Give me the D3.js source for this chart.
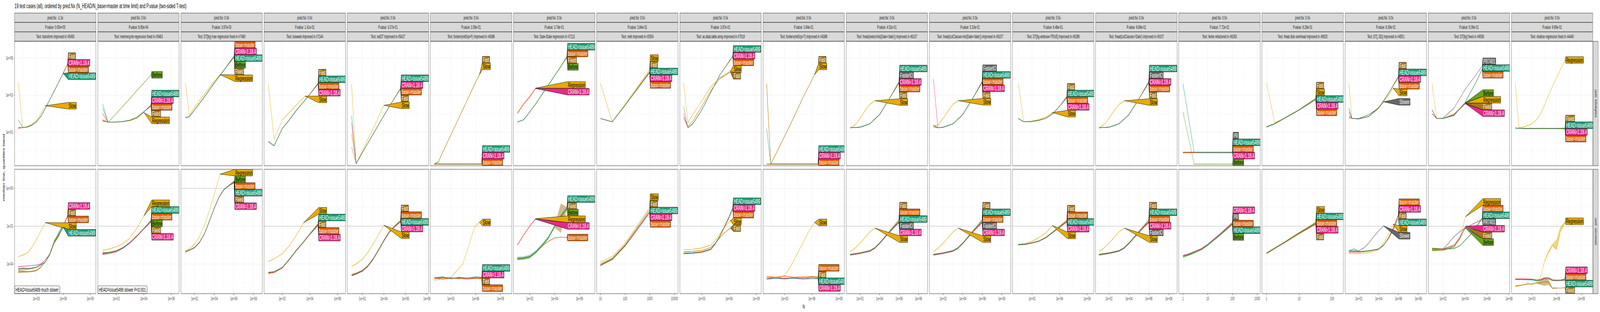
<!DOCTYPE html>
<html><head><meta charset="utf-8">
<script src="https://cdn.jsdelivr.net/npm/d3@7"></script>
<style>html,body{margin:0;padding:0;background:#fff;overflow:hidden}svg{display:block}text{font-family:"Liberation Sans",Arial,sans-serif}</style>
</head><body><svg id="chart"></svg>
<script>
// ---------------- DATA ----------------
const titleText = "19 test cases (all), ordered by pred.Nx (N_HEAD/N_base=master at time limit) and P.value (two-sided T-test)";
const yAxisTitle = "median line, quartiles band";
const xAxisTitle = "N";
const rowUnits = ["unit: kilobytes", "unit: seconds"];
const testNames = ["transform improved in #5493","memrecycle regression fixed in #5463","DT[by] max regression fixed in #7480","isoweek improved in #7144","setDT improved in #5427","forderv(retGrp=F) improved in #4386","Date-IDate regression in #7213","melt improved in #5054","as.data.table.array improved in #7019","forderv(retGrp=T) improved in #4386","fread(select=list(Date='date')) improved in #6107","fread(colClasses=list(Date='date')) improved in #6107","DT[by,verbose=TRUE] improved in #6296","fread(colClasses='Date') improved in #6107","fwrite refactored in #6393","fread disk overhead improved in #6925","DT[,.SD] improved in #4501","DT[by] fixed in #4558","shallow regression fixed in #4440"];
const predNx = ["-1.3x","0.0x","0.0x","0.0x","0.0x","0.0x","0.0x","0.0x","0.0x","0.0x","0.0x","0.0x","0.0x","0.0x","0.0x","0.0x","0.0x","0.0x","0.0x"];
const pValues = ["0.00e+00","8.65e-04","3.97e-03","1.41e-01","3.07e-01","3.59e-01","3.74e-01","3.84e-01","3.87e-01","3.94e-01","4.51e-01","5.33e-01","6.48e-01","6.88e-01","7.72e-01","8.28e-01","8.39e-01","9.36e-01","9.69e-01"];
const significance = ["HEAD=issue5489 much slower","HEAD=issue5489 slower P<0.001",null,null,null,null,null,null,null,null,null,null,null,null,null,null,null,null,null];
const timeLimitSec = [0.01,0.01,1,0.01,0.01,0.01,0.01,0.01,0.01,0.01,0.01,0.01,0.01,0.01,0.01,0.01,0.01,0.01,0.01];
// x axis limits (log10 N) per panel, tick exponents and tick labels
const xLimitsLog10 = [[0.59,9.65],[0.65,6.58],[0.61,8.91],[0.69,6.58],[0.59,8.16],[0.53,10.37],[0.69,7.25],[0.85,4.15],[0.58,9.56],[0.6,9.6],[0.58,8.92],[0.58,8.92],[0.58,6.49],[0.66,8.83],[-0.17,3.12],[-0.14,2.35],[0.62,8.83],[0.66,8.06],[0.53,10.4]];
const xTickExp = [[3,6,9],[2,4,6],[2,4,6,8],[2,4,6],[2,4,6,8],[3,6,9],[2,4,6],[1,2,3,4],[3,6,9],[3,6,9],[2,4,6,8],[2,4,6,8],[2,4,6],[2,4,6,8],[0,1,2,3],[0,1,2],[2,4,6,8],[2,4,6,8],[3,6,9]];
const xTickLabels = [["1e+03","1e+06","1e+09"],["1e+02","1e+04","1e+06"],["1e+02","1e+04","1e+06","1e+08"],["1e+02","1e+04","1e+06"],["1e+02","1e+04","1e+06","1e+08"],["1e+03","1e+06","1e+09"],["1e+02","1e+04","1e+06"],["10","100","1000","10000"],["1e+03","1e+06","1e+09"],["1e+03","1e+06","1e+09"],["1e+02","1e+04","1e+06","1e+08"],["1e+02","1e+04","1e+06","1e+08"],["1e+02","1e+04","1e+06"],["1e+02","1e+04","1e+06","1e+08"],["1","10","100","1000"],["1","10","100"],["1e+02","1e+04","1e+06","1e+08"],["1e+02","1e+04","1e+06","1e+08"],["1e+03","1e+06","1e+09"]];
// y axis (log10) per row
const yLimitsKb = [-0.81, 5.905];
const yLimitsSec = [-5.567, 1.01];
const yTickExpKb = [1,3,5];
const yTickLabelsKb = ["1e+01","1e+03","1e+05"];
const yTickExpSec = [-4,-2,0];
const yTickLabelsSec = ["1e-04","1e-02","1e+00"];

const H = "HEAD=issue5489", B = "base=master", C = "CRAN=1.18.4";
// series: [name, [[log10 N, log10 median], ...], optional band [[log10 N, log10 q25, log10 q75], ...]]
const p01_kb = [
 ["Slow", [[1,3.67],[1.5,1.25],[2,1.3],[2.5,1.42],[3,1.62],[3.5,2.0],[4,2.43]]],
 ["Fast", [[1,1.25],[1.5,1.25],[2,1.28],[2.5,1.38],[3,1.55],[3.5,1.85],[4,2.28],[4.5,2.75],[5,3.22],[5.5,3.7],[6,4.2],[6.5,4.71]]],
 [C, [[1,1.23],[1.5,1.25],[2,1.28],[2.5,1.38],[3,1.55],[3.5,1.85],[4,2.28],[4.5,2.75],[5,3.22],[5.5,3.7],[6,4.19],[6.5,4.70]]],
 [B, [[1,1.21],[1.5,1.25],[2,1.28],[2.5,1.38],[3,1.55],[3.5,1.85],[4,2.28],[4.5,2.75],[5,3.22],[5.5,3.7],[6,4.18],[6.5,4.68]]],
 [H, [[1,1.67],[1.5,1.25],[2,1.28],[2.5,1.38],[3,1.55],[3.5,1.85],[4,2.28],[4.5,2.75],[5,3.22],[5.5,3.7],[6,4.18]]]
];
const p01_sec = [
 ["Slow", [[1,-3.61],[1.5,-3.53],[2,-3.41],[2.5,-3.13],[3,-2.72],[3.5,-2.27],[4,-1.81]]],
 [C, [[1,-4.15],[1.5,-4.12],[2,-4.1],[2.5,-4.08],[3,-4.06],[3.5,-4.0],[4,-3.79],[4.5,-3.48],[5,-2.85],[5.5,-2.48],[6,-1.98],[6.5,-1.42]]],
 ["Fast", [[1,-4.42],[1.5,-4.4],[2,-4.41],[2.5,-4.39],[3,-4.35],[3.5,-4.17],[4,-3.9],[4.5,-3.5],[5,-2.87],[5.5,-2.5],[6,-2.0],[6.5,-1.45]],
   [[1,-4.48,-4.32],[1.5,-4.46,-4.32],[2,-4.45,-4.37],[2.5,-4.43,-4.35],[3,-4.38,-4.3],[3.5,-4.2,-4.14],[4,-3.92,-3.88],[4.5,-3.56,-3.42],[5,-2.95,-2.72],[5.5,-2.58,-2.4],[6,-2.04,-1.96],[6.5,-1.47,-1.43]]],
 [B, [[1,-4.33],[1.5,-4.2],[2,-4.23],[2.5,-4.22],[3,-4.17],[3.5,-4.06],[4,-3.9],[4.5,-3.5],[5,-2.86],[5.5,-2.5],[6,-2.02],[6.5,-1.47]]],
 [H, [[1,-4.25],[1.5,-4.26],[2,-4.27],[2.5,-4.25],[3,-4.17],[3.5,-4.06],[4,-3.9],[4.5,-3.48],[5,-2.83],[5.5,-2.42],[6,-2.05]],
   [[1,-4.28,-4.2],[2,-4.3,-4.22],[3,-4.2,-4.14],[4,-3.93,-3.87],[4.5,-3.52,-3.44],[5,-2.88,-2.78],[5.5,-2.5,-2.28],[6,-2.1,-1.88]]]
];
const p02_kb = [
 ["Before", [[1,2.3],[1.4,1.54],[2,2.0],[2.5,2.42],[3,2.82],[3.5,3.25],[4,3.65],[4.54,4.1]]],
 [H, [[1,2.54],[1.4,1.54],[2,1.55],[2.5,1.58],[3,1.65],[3.5,1.8],[4,2.1],[4.54,2.47]]],
 [C, [[1,2.0],[1.4,1.54],[2,1.55],[2.5,1.58],[3,1.65],[3.5,1.8],[4,2.1],[4.54,2.45]]],
 [B, [[1,1.67],[1.4,1.54],[2,1.55],[2.5,1.58],[3,1.65],[3.5,1.8],[4,2.1],[4.54,2.43]]],
 ["Fixed", [[1,1.6],[1.4,1.54],[2,1.55],[2.5,1.58],[3,1.65],[3.5,1.8],[4,2.1],[4.54,2.41]]],
 ["Regression", [[1,1.62],[1.4,1.54],[2,1.55],[2.5,1.58],[3,1.62],[3.5,1.75],[4.02,2.06]]]
];
const p02_sec = [
 ["Regression", [[1,-3.28],[1.5,-3.2],[2,-3.08],[2.5,-2.92],[3,-2.62],[3.5,-2.1],[4.02,-1.45]]],
 [H, [[1,-3.42],[1.5,-3.38],[2,-3.3],[2.5,-3.12],[3,-2.85],[3.5,-2.5],[4,-2.12],[4.54,-1.68]]],
 [B, [[1,-3.44],[1.5,-3.39],[2,-3.31],[2.5,-3.13],[3,-2.86],[3.5,-2.51],[4,-2.13],[4.54,-1.70]]],
 ["Before", [[1,-3.4],[1.5,-3.37],[2,-3.3],[2.5,-3.12],[3,-2.86],[3.5,-2.52],[4,-2.14],[4.54,-1.72]]],
 ["Fixed", [[1,-3.46],[1.5,-3.42],[2,-3.33],[2.5,-3.15],[3,-2.88],[3.5,-2.53],[4,-2.15],[4.54,-1.74]]],
 [C, [[1,-3.5],[1.5,-3.44],[2,-3.35],[2.5,-3.16],[3,-2.89],[3.5,-2.54],[4,-2.16],[4.54,-1.76]]]
];
const p03_kb = [
 ["Regression", [[1.07,3.66],[1.46,1.9],[2,2.35],[3,3.05],[4,3.75],[4.6,4.11]]],
 [B, [[1.07,1.8],[1.46,1.83],[2,2.2],[3,2.9],[4,3.65],[5,4.35],[6.05,5.14]]],
 [C, [[1.07,1.8],[1.46,1.83],[2,2.2],[3,2.9],[4,3.65],[5,4.35],[6.05,5.12]]],
 [H, [[1.07,1.8],[1.46,1.83],[2,2.2],[3,2.9],[4,3.65],[5,4.35],[6.05,5.10]]],
 ["Before", [[1.07,1.8],[1.46,1.83],[2,2.2],[3,2.9],[4,3.65],[5,4.35],[6.05,5.08]]],
 ["Fixed", [[1.07,1.8],[1.46,1.83],[2,2.2],[3,2.9],[4,3.65],[5,4.35],[6.05,5.06]]]
];
const p03_sec = [
 ["Regression", [[1.07,-3.3],[1.5,-3.18],[2,-2.95],[2.5,-2.55],[3,-1.95],[3.5,-1.2],[4,-0.35],[4.6,0.75]]],
 ["Before", [[1.07,-3.35],[1.5,-3.25],[2,-3.12],[2.5,-2.85],[3,-2.4],[3.5,-1.75],[4,-1.05],[4.5,-0.45],[5,-0.05],[5.5,0.15],[6.05,0.40]]],
 [B, [[1.07,-3.35],[1.5,-3.25],[2,-3.12],[2.5,-2.85],[3,-2.4],[3.5,-1.75],[4,-1.05],[4.5,-0.45],[5,-0.05],[5.5,0.15],[6.05,0.37]]],
 [H, [[1.07,-3.35],[1.5,-3.25],[2,-3.12],[2.5,-2.85],[3,-2.4],[3.5,-1.75],[4,-1.05],[4.5,-0.45],[5,-0.05],[5.5,0.15],[6.05,0.35]]],
 ["Fixed", [[1.07,-3.37],[1.5,-3.27],[2,-3.14],[2.5,-2.87],[3,-2.42],[3.5,-1.77],[4,-1.07],[4.5,-0.47],[5,-0.07],[5.5,0.13],[6.05,0.33]]],
 [C, [[1.07,-3.37],[1.5,-3.27],[2,-3.14],[2.5,-2.87],[3,-2.42],[3.5,-1.77],[4,-1.07],[4.5,-0.47],[5,-0.07],[5.5,0.13],[6.05,0.30]]]
];
const p04_kb = [
 ["Slow", [[1,3.57],[1.41,0.64],[2,1.65],[2.5,2.05],[3,2.45],[3.66,2.95]]],
 ["Fast", [[1,0.5],[1.41,0.26],[2,1.19],[2.5,1.65],[3,2.15],[3.5,2.6],[4,3.05],[4.6,3.66]]],
 [H, [[1,0.5],[1.41,0.26],[2,1.19],[2.5,1.65],[3,2.15],[3.5,2.6],[4,3.05],[4.6,3.64]]],
 [B, [[1,0.5],[1.41,0.26],[2,1.19],[2.5,1.65],[3,2.15],[3.5,2.6],[4,3.05],[4.6,3.62]]],
 [C, [[1,0.5],[1.41,0.26],[2,1.19],[2.5,1.65],[3,2.15],[3.5,2.6],[4,3.05],[4.6,3.60]]]
];
const p04_sec = [
 ["Slow", [[1,-3.86],[1.41,-3.73],[2,-3.46],[2.5,-3.05],[3,-2.5],[3.55,-1.82]]],
 [H, [[1,-4.43],[1.41,-4.4],[2,-4.18],[2.5,-3.75],[3,-3.28],[3.5,-2.85],[4,-2.4],[4.6,-1.86]]],
 ["Fast", [[1,-4.45],[1.41,-4.42],[2,-4.2],[2.5,-3.77],[3,-3.3],[3.5,-2.87],[4,-2.42],[4.6,-1.90]]],
 [B, [[1,-4.47],[1.41,-4.43],[2,-4.21],[2.5,-3.78],[3,-3.31],[3.5,-2.88],[4,-2.43],[4.6,-1.93]]],
 [C, [[1,-4.5],[1.41,-4.45],[2,-4.22],[2.5,-3.79],[3,-3.32],[3.5,-2.89],[4,-2.44],[4.6,-1.96]]]
];
const p05_kb = [
 ["Slow", [[1,3.57],[1.42,-0.7],[2,0.0],[3,1.2],[4,2.45]]],
 [H, [[1,1.9],[1.42,-0.7],[2,-0.1],[3,0.9],[4,1.9],[5,2.85],[5.56,3.40]]],
 [C, [[1,1.5],[1.42,-0.7],[2,-0.1],[3,0.9],[4,1.9],[5,2.85],[5.56,3.38]]],
 [B, [[1,0.9],[1.42,-0.7],[2,-0.1],[3,0.9],[4,1.9],[5,2.85],[5.56,3.36]]],
 ["Fast", [[1,0.2],[1.42,-0.7],[2,-0.1],[3,0.9],[4,1.9],[5,2.85],[5.56,3.34]]]
];
const p05_sec = [
 ["Slow", [[1,-4.13],[1.42,-4.0],[2,-3.75],[2.5,-3.4],[3,-2.95],[3.5,-2.45],[4,-1.95]]],
 ["Fast", [[1,-4.55],[1.42,-4.48],[2,-4.33],[2.5,-4.08],[3,-3.71],[3.5,-3.23],[4,-2.73],[4.5,-2.28],[5,-1.98],[5.56,-1.68]]],
 [B, [[1,-4.58],[1.42,-4.5],[2,-4.35],[2.5,-4.1],[3,-3.73],[3.5,-3.25],[4,-2.75],[4.5,-2.3],[5,-2.0],[5.56,-1.71]]],
 [H, [[1,-4.6],[1.42,-4.52],[2,-4.37],[2.5,-4.12],[3,-3.75],[3.5,-3.27],[4,-2.77],[4.5,-2.32],[5,-2.02],[5.56,-1.74]]],
 [C, [[1,-4.62],[1.42,-4.54],[2,-4.39],[2.5,-4.14],[3,-3.77],[3.5,-3.29],[4,-2.79],[4.5,-2.34],[5,-2.04],[5.56,-1.77]]]
];
const p06_kb = [
 ["Slow", [[1,-0.72],[1.5,-0.6],[2,-0.1],[3,0.85],[4,1.8],[5,2.75],[6,3.7],[6.46,4.11]]],
 ["Fast", [[1,-0.72],[1.5,-0.6],[2,-0.1],[3,0.85],[4,1.8],[5,2.75],[6,3.7],[6.46,4.11],[6.75,4.45]]],
 [H, [[1,-0.71],[2,-0.71],[3,-0.71],[4,-0.71],[5,-0.71],[6,-0.71],[6.75,-0.71]]],
 [C, [[1,-0.72],[2,-0.72],[3,-0.72],[4,-0.72],[5,-0.72],[6,-0.72],[6.75,-0.72]]],
 [B, [[1,-0.73],[2,-0.73],[3,-0.73],[4,-0.73],[5,-0.73],[6,-0.73],[6.75,-0.73]]]
];
const p06_sec = [
 ["Slow", [[1,-4.85],[2,-4.78],[3,-4.71],[4.44,-4.0],[5.2,-3.0],[5.88,-2.03],[6.46,-1.8]]],
 [H, [[1,-4.72],[2,-4.68],[3,-4.76],[4,-4.7],[5,-4.74],[6,-4.68],[6.75,-4.70]]],
 [C, [[1,-4.75],[2,-4.7],[3,-4.78],[4,-4.73],[5,-4.76],[6,-4.72],[6.75,-4.73]]],
 ["Fast", [[1,-4.77],[2,-4.73],[3,-4.72],[4,-4.78],[5,-4.74],[6,-4.77],[6.75,-4.75]]],
 [B, [[1,-4.74],[2,-4.8],[3,-4.75],[4,-4.76],[5,-4.8],[6,-4.76],[6.75,-4.78]]]
];
const p07_kb = [
 ["Regression", [[1,2.05],[1.5,2.55],[2,2.95],[2.46,3.38]]],
 [C, [[1,2.0],[1.5,2.5],[2,2.9],[2.46,3.36]]],
 [H, [[1,1.55],[1.5,1.67],[2,2.1],[2.5,2.55],[3,3.05],[3.5,3.55],[4,4.05],[4.5,4.55],[5,5.10]]],
 [B, [[1,1.55],[1.5,1.67],[2,2.1],[2.5,2.55],[3,3.05],[3.5,3.55],[4,4.05],[4.5,4.55],[5,5.08]]],
 ["Fixed", [[1,1.55],[1.5,1.67],[2,2.1],[2.5,2.55],[3,3.05],[3.5,3.55],[4,4.05],[4.5,4.55],[5,5.06]]],
 ["Before", [[1,1.55],[1.5,1.67],[2,2.1],[2.5,2.55],[3,3.05],[3.5,3.55],[4,4.05],[4.5,4.55],[5,5.04]]]
];
const p07_sec = [
 ["Regression", [[1,-2.97],[1.5,-2.45],[2,-1.98],[2.46,-1.6]]],
 [C, [[1,-3.0],[1.5,-2.48],[2,-2.0],[2.46,-1.63]]],
 [H, [[1,-3.7],[1.5,-3.68],[2,-3.6],[2.5,-3.35],[3,-3.0],[3.5,-2.6],[4,-2.0],[4.5,-1.45],[5,-1.0]],
   [[1,-3.8,-3.62],[1.5,-3.78,-3.6],[2,-3.7,-3.52],[2.5,-3.43,-3.27],[3,-3.08,-2.92],[3.5,-2.68,-2.52],[4,-2.06,-1.94],[4.5,-1.5,-1.4],[5,-1.03,-0.97]]],
 ["Fixed", [[1,-3.72],[1.5,-3.7],[2,-3.62],[2.5,-3.37],[3,-3.02],[3.5,-2.62],[4,-2.02],[4.5,-1.5],[5,-1.05]],
   [[3.5,-2.65,-2.6],[4,-2.08,-1.96],[4.5,-2.35,-0.8],[5,-1.1,-1.0]]],
 ["Before", [[1,-3.74],[1.5,-3.72],[2,-3.64],[2.5,-3.39],[3,-3.04],[3.5,-2.64],[4,-2.04],[4.5,-1.55],[5,-1.1]]],
 [B, [[1,-3.72],[1.5,-3.7],[2,-3.62],[2.5,-3.38],[3,-3.05],[3.5,-2.8],[4,-2.62],[4.5,-2.58],[5,-2.6]]]
];
const p08_kb = [
 ["Slow", [[1,3.64],[1.48,1.56],[2,2.5],[2.5,3.45],[3,4.4]]],
 ["Fast", [[1,1.74],[1.48,1.56],[2,2.45],[2.5,3.38],[3,4.3]]],
 [H, [[1,1.74],[1.48,1.56],[2,2.45],[2.5,3.35],[3,4.25]]],
 [C, [[1,1.74],[1.48,1.56],[2,2.45],[2.5,3.34],[3,4.23]]],
 [B, [[1,1.74],[1.48,1.56],[2,2.45],[2.5,3.33],[3,4.21]]]
];
const p08_sec = [
 ["Slow", [[1,-3.9],[1.48,-3.6],[2,-2.9],[2.5,-1.95],[3,-1.0]]],
 ["Fast", [[1,-4.0],[1.48,-3.7],[2,-2.98],[2.5,-2.05],[3,-1.1]]],
 [H, [[1,-4.05],[1.48,-3.73],[2,-3.02],[2.5,-2.12],[3,-1.2]]],
 [C, [[1,-4.07],[1.48,-3.75],[2,-3.04],[2.5,-2.15],[3,-1.25]]],
 [B, [[1,-4.09],[1.48,-3.77],[2,-3.06],[2.5,-2.18],[3,-1.3]]]
];
const p09_kb = [
 ["Slow", [[1,3.66],[1.47,1.51],[2,1.95],[3,2.7],[4,3.45],[5,3.95],[6.16,4.3]]],
 ["Fast", [[1,1.8],[1.47,1.3],[2,1.6],[3,2.4],[4,3.25],[5,3.9],[6.16,4.25]]],
 [H, [[1,2.38],[1.47,1.24],[2,1.45],[3,2.2],[4,3.15],[5,4.1],[6.42,5.12]]],
 [C, [[1,2.0],[1.47,1.24],[2,1.45],[3,2.2],[4,3.15],[5,4.1],[6.42,5.10]]],
 [B, [[1,1.8],[1.47,1.24],[2,1.45],[3,2.2],[4,3.15],[5,4.1],[6.42,5.08]]]
];
const p09_sec = [
 ["Slow", [[1,-3.24],[2,-3.22],[3,-3.15],[4,-3.0],[4.5,-2.75],[5,-2.4],[5.5,-2.05],[6.16,-1.7]]],
 ["Fast", [[1,-3.35],[2,-3.33],[3,-3.28],[4,-3.12],[4.5,-2.9],[5,-2.6],[5.5,-2.35],[6.16,-2.1]]],
 [H, [[1,-3.42],[2,-3.4],[3,-3.35],[4,-3.2],[4.5,-2.9],[5,-2.5],[5.5,-2.0],[6,-1.5],[6.42,-1.0]]],
 [C, [[1,-3.44],[2,-3.42],[3,-3.37],[4,-3.22],[4.5,-2.92],[5,-2.52],[5.5,-2.03],[6,-1.54],[6.42,-1.05]]],
 [B, [[1,-3.46],[2,-3.44],[3,-3.39],[4,-3.24],[4.5,-2.94],[5,-2.55],[5.5,-2.06],[6,-1.58],[6.42,-1.1]]]
];
const p10_kb = [
 ["Slow", [[1,3.66],[1.45,-0.72],[2,-0.2],[3,0.8],[4,1.8],[5,2.85],[6.3,4.11]]],
 ["Fast", [[1,3.6],[1.45,-0.72],[2,-0.2],[3,0.8],[4,1.8],[5,2.85],[6.3,4.11],[6.7,4.45]]],
 [H, [[1,1.19],[1.45,-0.71],[3,-0.71],[5,-0.71],[6.7,-0.71]]],
 [C, [[1,-0.72],[3,-0.72],[5,-0.72],[6.7,-0.72]]],
 [B, [[1,-0.73],[3,-0.73],[5,-0.73],[6.7,-0.73]]]
];
const p10_sec = [
 ["Slow", [[1,-4.78],[2,-4.74],[3,-4.62],[3.8,-4.0],[4.58,-3.28],[5.63,-2.3],[6.3,-1.8]]],
 [B, [[1,-4.66],[2,-4.7],[3,-4.64],[4,-4.7],[5,-4.68],[6,-4.66],[6.7,-4.68]]],
 ["Fast", [[1,-4.74],[2,-4.7],[3,-4.76],[4,-4.72],[5,-4.75],[6,-4.7],[6.7,-4.72]]],
 [H, [[1,-4.73],[2,-4.77],[3,-4.74],[4,-4.76],[5,-4.73],[6,-4.77],[6.7,-4.75]]],
 [C, [[1,-4.8],[2,-4.76],[3,-4.79],[4,-4.75],[5,-4.8],[6,-4.77],[6.7,-4.78]]]
];
const p11_kb = [
 ["Slow", [[1,1.24],[1.5,1.4],[2,1.75],[2.5,2.15],[3,2.5],[3.53,2.7]]],
 [H, [[1,1.24],[2,1.27],[3,1.45],[4,1.95],[5,2.8],[6,3.74]]],
 ["FasterIO", [[1,1.24],[2,1.27],[3,1.45],[4,1.95],[5,2.8],[6,3.72]]],
 [C, [[1,1.24],[2,1.27],[3,1.45],[4,1.95],[5,2.8],[6,3.70]]],
 [B, [[1,1.24],[2,1.27],[3,1.45],[4,1.95],[5,2.8],[6,3.68]]],
 ["Fast", [[1,1.24],[2,1.27],[3,1.45],[4,1.95],[5,2.8],[6,3.66]]]
];
const p11_sec = [
 ["Slow", [[1,-3.35],[1.5,-3.15],[2,-2.9],[2.5,-2.6],[3,-2.3],[3.53,-2.1]]],
 ["Fast", [[1,-3.48],[2,-3.4],[3,-3.28],[3.5,-3.13],[4,-2.88],[4.5,-2.58],[5,-2.27],[5.5,-1.96],[6,-1.65]]],
 [B, [[1,-3.5],[2,-3.42],[3,-3.3],[3.5,-3.15],[4,-2.9],[4.5,-2.6],[5,-2.3],[5.5,-2.0],[6,-1.70]]],
 [H, [[1,-3.51],[2,-3.43],[3,-3.31],[3.5,-3.16],[4,-2.91],[4.5,-2.61],[5,-2.32],[5.5,-2.03],[6,-1.75]]],
 ["FasterIO", [[1,-3.52],[2,-3.44],[3,-3.32],[3.5,-3.17],[4,-2.92],[4.5,-2.62],[5,-2.33],[5.5,-2.05],[6,-1.78]]],
 [C, [[1,-3.53],[2,-3.45],[3,-3.33],[3.5,-3.18],[4,-2.93],[4.5,-2.63],[5,-2.34],[5.5,-2.07],[6,-1.81]]]
];
const p12_kb = [
 ["Slow", [[1,1.3],[1.5,1.4],[2,1.75],[2.5,2.15],[3,2.5],[3.53,2.7]]],
 ["FasterIO", [[1,1.3],[1.46,1.24],[2,1.27],[3,1.45],[4,1.95],[5,2.8],[6,3.76]]],
 [H, [[1,1.4],[1.46,1.24],[2,1.27],[3,1.45],[4,1.95],[5,2.8],[6,3.74]]],
 [B, [[1,1.3],[1.46,1.24],[2,1.27],[3,1.45],[4,1.95],[5,2.8],[6,3.72]]],
 [C, [[1,3.88],[1.46,1.24],[2,1.27],[3,1.45],[4,1.95],[5,2.8],[6,3.70]]],
 ["Fast", [[1,1.3],[1.46,1.24],[2,1.27],[3,1.45],[4,1.95],[5,2.8],[6,3.68]]]
];
const p12_sec = [
 ["Slow", [[1,-3.35],[1.5,-3.15],[2,-2.9],[2.5,-2.6],[3,-2.3],[3.53,-2.1]]],
 ["Fast", [[1,-3.48],[2,-3.4],[3,-3.28],[3.5,-3.13],[4,-2.88],[4.5,-2.58],[5,-2.27],[5.5,-1.96],[6,-1.65]]],
 [H, [[1,-3.5],[2,-3.42],[3,-3.3],[3.5,-3.15],[4,-2.9],[4.5,-2.6],[5,-2.3],[5.5,-2.0],[6,-1.70]]],
 [B, [[1,-3.51],[2,-3.43],[3,-3.31],[3.5,-3.16],[4,-2.91],[4.5,-2.61],[5,-2.32],[5.5,-2.03],[6,-1.75]]],
 ["FasterIO", [[1,-3.52],[2,-3.44],[3,-3.32],[3.5,-3.17],[4,-2.92],[4.5,-2.62],[5,-2.33],[5.5,-2.05],[6,-1.78]]],
 [C, [[1,-3.53],[2,-3.45],[3,-3.33],[3.5,-3.18],[4,-2.93],[4.5,-2.63],[5,-2.34],[5.5,-2.07],[6,-1.81]]]
];
const p13_kb = [
 ["Slow", [[1,3.64],[1.4,1.56],[2,1.6],[2.5,1.68],[3,1.82],[3.47,2.06]]],
 ["Fast", [[1,1.74],[1.4,1.56],[2,1.58],[2.5,1.64],[3,1.75],[3.5,2.0],[4,2.4],[4.53,2.94]]],
 [H, [[1,1.74],[1.4,1.56],[2,1.58],[2.5,1.64],[3,1.75],[3.5,2.0],[4,2.4],[4.53,2.90]]],
 [B, [[1,1.74],[1.4,1.56],[2,1.58],[2.5,1.64],[3,1.75],[3.5,2.0],[4,2.4],[4.53,2.88]]],
 [C, [[1,1.74],[1.4,1.56],[2,1.58],[2.5,1.64],[3,1.75],[3.5,2.0],[4,2.4],[4.53,2.86]]]
];
const p13_sec = [
 ["Slow", [[1,-2.95],[1.5,-2.92],[2,-2.8],[2.5,-2.6],[3,-2.35],[3.47,-1.96]]],
 ["Fast", [[1,-2.96],[1.5,-2.94],[2,-2.87],[2.5,-2.77],[3,-2.58],[3.5,-2.3],[4,-2.0],[4.53,-1.68]]],
 [B, [[1,-2.97],[1.5,-2.95],[2,-2.88],[2.5,-2.78],[3,-2.6],[3.5,-2.32],[4,-2.03],[4.53,-1.72]]],
 [H, [[1,-2.98],[1.5,-2.96],[2,-2.89],[2.5,-2.79],[3,-2.61],[3.5,-2.33],[4,-2.05],[4.53,-1.75]]],
 [C, [[1,-2.99],[1.5,-2.97],[2,-2.9],[2.5,-2.8],[3,-2.62],[3.5,-2.34],[4,-2.07],[4.53,-1.78]]]
];
const p14_kb = [
 ["Slow", [[1,1.24],[1.5,1.4],[2,1.75],[2.5,2.15],[3,2.5],[3.55,2.7]]],
 [H, [[1,1.24],[2,1.27],[3,1.45],[4,1.95],[5,2.8],[6,3.74]]],
 ["FasterIO", [[1,1.24],[2,1.27],[3,1.45],[4,1.95],[5,2.8],[6,3.72]]],
 [C, [[1,1.24],[2,1.27],[3,1.45],[4,1.95],[5,2.8],[6,3.70]]],
 [B, [[1,1.24],[2,1.27],[3,1.45],[4,1.95],[5,2.8],[6,3.68]]],
 ["Fast", [[1,1.24],[2,1.27],[3,1.45],[4,1.95],[5,2.8],[6,3.66]]]
];
const p14_sec = [
 ["Slow", [[1,-3.35],[1.5,-3.15],[2,-2.9],[2.5,-2.6],[3,-2.3],[3.55,-2.1]]],
 ["Fast", [[1,-3.48],[2,-3.4],[3,-3.28],[3.5,-3.13],[4,-2.88],[4.5,-2.58],[5,-2.27],[5.5,-1.96],[6,-1.65]]],
 [H, [[1,-3.5],[2,-3.42],[3,-3.3],[3.5,-3.15],[4,-2.9],[4.5,-2.6],[5,-2.3],[5.5,-2.0],[6,-1.70]]],
 [B, [[1,-3.51],[2,-3.43],[3,-3.31],[3.5,-3.16],[4,-2.91],[4.5,-2.61],[5,-2.32],[5.5,-2.03],[6,-1.75]]],
 [C, [[1,-3.52],[2,-3.44],[3,-3.32],[3.5,-3.17],[4,-2.92],[4.5,-2.62],[5,-2.33],[5.5,-2.05],[6,-1.78]]],
 ["FasterIO", [[1,-3.53],[2,-3.45],[3,-3.33],[3.5,-3.18],[4,-2.93],[4.5,-2.63],[5,-2.34],[5.5,-2.07],[6,-1.81]]]
];
const p15_kb = [
 ["Before", [[0,2.1],[0.45,-0.72],[1,-0.72],[1.5,-0.72],[2,-0.72]]],
 ["PR", [[0,-0.08],[0.5,-0.08],[1,-0.08],[1.5,-0.08],[2,-0.08]]],
 [H, [[0,3.6],[0.45,-0.09],[1,-0.09],[1.5,-0.09],[2,-0.09]]],
 [B, [[0,-0.1],[0.5,-0.1],[1,-0.1],[1.5,-0.1],[2,-0.1]]],
 [C, [[0,-0.11],[0.5,-0.11],[1,-0.11],[1.5,-0.11],[2,-0.11]]]
];
const p15_sec = [
 ["Before", [[0,-3.65],[0.25,-3.53],[0.5,-3.4],[0.75,-3.25],[1,-3.02],[1.5,-2.48],[2,-1.92]]],
 [C, [[0,-3.55],[0.25,-3.45],[0.5,-3.32],[0.75,-3.18],[1,-2.95],[1.5,-2.4],[2,-1.80]]],
 ["PR", [[0,-3.57],[0.25,-3.47],[0.5,-3.34],[0.75,-3.2],[1,-2.97],[1.5,-2.42],[2,-1.83]]],
 [B, [[0,-3.59],[0.25,-3.49],[0.5,-3.35],[0.75,-3.21],[1,-2.98],[1.5,-2.44],[2,-1.86]]],
 [H, [[0,-3.6],[0.25,-3.5],[0.5,-3.36],[0.75,-3.22],[1,-2.99],[1.5,-2.45],[2,-1.89]]]
];
const p16_kb = [
 ["Slow", [[0,3.64],[0.25,1.5],[0.5,1.72],[1,2.22],[1.51,2.82]]],
 ["Fast", [[0,1.3],[0.25,1.47],[0.5,1.72],[1,2.22],[1.51,2.84]]],
 [H, [[0,1.28],[0.25,1.45],[0.5,1.7],[1,2.2],[1.51,2.78]]],
 [C, [[0,1.28],[0.25,1.45],[0.5,1.7],[1,2.2],[1.51,2.77]]],
 [B, [[0,1.28],[0.25,1.45],[0.5,1.7],[1,2.2],[1.51,2.76]]]
];
const p16_sec = [
 ["Slow", [[0,-3.4],[0.5,-2.88],[1,-2.33],[1.51,-1.78]]],
 [H, [[0,-3.42],[0.5,-2.9],[1,-2.35],[1.51,-1.81]]],
 [B, [[0,-3.43],[0.5,-2.91],[1,-2.37],[1.51,-1.84]]],
 [C, [[0,-3.44],[0.5,-2.92],[1,-2.38],[1.51,-1.87]]],
 ["Fast", [[0,-3.45],[0.5,-2.93],[1,-2.4],[1.51,-1.90]]]
];
const p17_kb = [
 ["Slow", [[1,3.64],[1.32,1.74],[2,1.72],[3,1.85],[4,2.35],[5,3.0],[5.46,3.38]]],
 ["Slower", [[1,1.8],[1.32,1.74],[2,1.74],[3,1.95],[4,2.3],[4.49,2.64]]],
 ["Fast", [[1,2.3],[1.32,1.74],[2,1.72],[3,1.85],[4,2.3],[5,3.1],[6,4.02]]],
 [H, [[1,2.3],[1.32,1.74],[2,1.72],[3,1.85],[4,2.3],[5,3.1],[6,4.00]]],
 [C, [[1,2.1],[1.32,1.74],[2,1.72],[3,1.85],[4,2.3],[5,3.1],[6,3.98]]],
 [B, [[1,1.9],[1.32,1.74],[2,1.72],[3,1.85],[4,2.3],[5,3.1],[6,3.96]]]
];
const p17_sec = [
 ["Slow", [[1,-3.45],[2,-3.45],[3,-3.4],[4,-3.25],[4.5,-2.9],[5,-2.4],[5.46,-1.9]]],
 ["Slower", [[1,-3.3],[2,-3.3],[2.5,-3.15],[3,-2.9],[3.5,-2.55],[4,-2.25],[4.49,-1.98]]],
 [B, [[1,-3.35],[2,-3.35],[3,-3.3],[4,-3.2],[4.5,-3.0],[5,-2.6],[5.5,-2.05],[6,-1.35]]],
 [C, [[1,-3.36],[2,-3.36],[3,-3.31],[4,-3.21],[4.5,-3.01],[5,-2.62],[5.5,-2.08],[6,-1.40]]],
 ["Fast", [[1,-3.37],[2,-3.37],[3,-3.32],[4,-3.22],[4.5,-3.02],[5,-2.64],[5.5,-2.12],[6,-1.48]]],
 [H, [[1,-3.3],[1.5,-3.2],[2,-3.34],[3,-3.3],[4,-3.2],[4.5,-3.0],[5,-2.65],[5.5,-2.18],[6,-1.60]]]
];
const p18_kb = [
 ["Regression", [[1,3.61],[1.43,1.74],[2,1.75],[3,1.98],[4.04,2.58]]],
 ["Before", [[1,2.0],[1.43,1.74],[2,1.74],[3,1.95],[4.04,2.60]]],
 ["Fixed", [[1,2.0],[1.43,1.74],[2,1.74],[3,1.95],[4.04,2.56]]],
 [C, [[1,2.0],[1.43,1.74],[2,1.74],[3,1.95],[4.04,2.54]]],
 ["PR7401", [[1,2.2],[1.43,1.74],[2,1.76],[3,2.3],[4,3.3],[5,4.1],[5.57,4.57]]],
 [H, [[1,2.2],[1.43,1.74],[2,1.74],[3,1.9],[4,2.6],[5,3.7],[5.57,4.42]]],
 [B, [[1,2.2],[1.43,1.74],[2,1.74],[3,1.9],[4,2.6],[5,3.7],[5.57,4.40]]]
];
const p18_sec = [
 ["Regression", [[1,-3.15],[2,-3.2],[3,-3.1],[3.5,-2.7],[4.04,-1.5]]],
 ["Before", [[1,-3.28],[2,-3.25],[3,-3.05],[3.5,-2.65],[4.04,-2.1]]],
 ["Fixed", [[1,-3.3],[2,-3.28],[3,-3.1],[3.5,-2.7],[4.04,-2.05]]],
 [C, [[1,-3.25],[2,-3.2],[3,-3.0],[3.5,-2.6],[4.04,-2.0]]],
 ["PR7401", [[1,-3.18],[2,-3.2],[2.5,-2.9],[3,-2.55],[3.5,-2.3],[4,-2.1],[4.5,-1.95],[5,-1.8],[5.57,-1.65]]],
 [H, [[1,-3.2],[2,-3.22],[3,-3.18],[3.5,-3.05],[4,-2.75],[4.5,-2.45],[5,-2.08],[5.57,-1.6]]],
 [B, [[1,-3.2],[2,-3.22],[3,-3.18],[3.5,-3.05],[4,-2.75],[4.5,-2.43],[5,-2.03],[5.57,-1.55]]]
];
const p19_kb = [
 ["Regression", [[1,3.64],[1.43,1.24],[2,1.28],[3,1.45],[3.61,1.7],[4.04,1.97],[4.53,2.45],[5.21,3.19],[6,3.95],[7.04,4.9]]],
 ["Fixed", [[1,1.22],[2,1.21],[3,1.21],[4,1.21],[5,1.21],[6,1.21],[7.04,1.22]]],
 [H, [[1,1.22],[2,1.2],[3,1.2],[4,1.2],[5,1.2],[6,1.2],[7.04,1.20]]],
 [C, [[1,1.23],[2,1.2],[3,1.2],[4,1.2],[5,1.2],[6,1.2],[7.04,1.19]]],
 [B, [[1,1.22],[2,1.19],[3,1.19],[4,1.19],[5,1.19],[6,1.19],[7.04,1.18]]]
];
const p19_sec = [
 ["Regression", [[1,-5.2],[1.5,-5.15],[2,-5.1],[2.5,-5.0],[3,-5.1],[3.61,-4.96],[4.04,-4.7],[4.53,-3.87],[5.0,-3.4],[5.49,-3.0],[6.0,-3.22],[6.48,-2.25],[7.04,-1.81]],
   [[4.53,-3.9,-3.84],[5.0,-3.45,-3.3],[5.49,-3.05,-2.95],[6.0,-3.25,-2.7],[6.48,-2.3,-2.0],[7.04,-1.85,-1.78]]],
 [C, [[1,-4.78],[2,-4.78],[3,-4.8],[3.61,-4.84],[4.04,-4.82],[4.53,-4.72],[5.0,-4.72],[5.49,-4.83],[6,-4.85],[6.5,-4.84],[7.04,-4.78]]],
 [B, [[1,-4.8],[2,-4.8],[3,-4.82],[3.61,-4.86],[4.04,-4.84],[4.53,-4.75],[5.0,-4.75],[5.49,-4.86],[6,-4.87],[6.5,-4.86],[7.04,-4.82]]],
 [H, [[1,-4.83],[2,-4.83],[3,-4.84],[3.61,-4.88],[4.04,-4.87],[4.53,-4.78],[5.0,-4.78],[5.49,-4.88],[6,-4.89],[6.5,-4.88],[7.04,-4.86]]],
 ["Fixed", [[1,-5.15],[2,-5.1],[3,-5.05],[3.61,-5.0],[4.04,-5.0],[4.53,-4.93],[5.0,-4.95],[5.49,-5.28],[6,-5.27],[6.5,-5.27],[7.04,-5.25]],
   [[3.61,-5.04,-4.96],[4.04,-5.1,-4.88],[4.53,-5.15,-4.75],[5.0,-5.1,-4.8],[5.49,-5.31,-5.24],[6,-5.3,-5.24]]]
];
const panelSeries = [[p01_kb,p01_sec],[p02_kb,p02_sec],[p03_kb,p03_sec],[p04_kb,p04_sec],[p05_kb,p05_sec],[p06_kb,p06_sec],[p07_kb,p07_sec],[p08_kb,p08_sec],[p09_kb,p09_sec],[p10_kb,p10_sec],[p11_kb,p11_sec],[p12_kb,p12_sec],[p13_kb,p13_sec],[p14_kb,p14_sec],[p15_kb,p15_sec],[p16_kb,p16_sec],[p17_kb,p17_sec],[p18_kb,p18_sec],[p19_kb,p19_sec]];

// ---------------- STYLE ----------------
const seriesColors = {"HEAD=issue5489":"#1B9E77","base=master":"#D95F02","CRAN=1.18.4":"#E7298A","Before":"#66A61E","Regression":"#E6AB02","Slow":"#E6AB02","Slower":"#666666","Fixed":"#A6761D","Fast":"#A6761D","FasterIO":"#666666","PR":"#666666","PR7401":"#666666"};
const drawRank = {"Regression":0,"Slow":0,"Slower":1,"FasterIO":1,"PR":1,"PR7401":1,"Fast":2,"Fixed":2,"Before":3,"CRAN=1.18.4":4,"base=master":5,"HEAD=issue5489":6};
function textColor(hex){const c=d3.rgb(hex);return (0.299*c.r+0.587*c.g+0.114*c.b)>128?"#000":"#fff";}

const VW=7600, VH=800;
const P0=69.3, PITCH=395, PW=386.7, ROWTOP=[106,434], RH=319;
const STRIP_TOP=33.5, STRIP_H=23.6, STRIP_PITCH=24.2, LH=17.2;
const GRID="#EBEBEB", BORDER="#333333";

// the drawing is laid out on a 7600x800 canvas and scaled to the actual window
const svg=d3.select("#chart")
  .attr("viewBox",`0 0 ${VW} ${VH}`).attr("preserveAspectRatio","none")
  .attr("width",window.innerWidth||VW).attr("height",window.innerHeight||VH);
const defs=svg.append("defs");
svg.append("rect").attr("width",VW).attr("height",VH).attr("fill","#fff");
svg.append("text").attr("x",69.3).attr("y",21.5).attr("font-size",17).attr("fill","#000").text(titleText);

const yLims=[yLimitsKb,yLimitsSec];
const yScales=yLims.map((d,r)=>d3.scaleLog().domain([Math.pow(10,d[0]),Math.pow(10,d[1])]).range([ROWTOP[r]+RH,ROWTOP[r]]));
const yMaj=[yTickExpKb,yTickExpSec], yLab=[yTickLabelsKb,yTickLabelsSec];

function minorsOf(m,lo,hi){const st=m[1]-m[0];const out=[m[0]-st/2];for(let k=0;k<m.length-1;k++)out.push((m[k]+m[k+1])/2);out.push(m[m.length-1]+st/2);return out.filter(v=>v>lo&&v<hi);}
function stack(t,h){const adj=t.map((v,i)=>v-i*h);const bl=[];adj.forEach(v=>{bl.push({s:v,n:1});while(bl.length>1){const b=bl[bl.length-1],a=bl[bl.length-2];if(a.s/a.n>b.s/b.n){a.s+=b.s;a.n+=b.n;bl.pop();}else break;}});const out=[];bl.forEach(b=>{for(let k=0;k<b.n;k++)out.push(b.s/b.n);});return out.map((q,i)=>q+i*h);}
const P10=v=>Math.pow(10,v);

testNames.forEach((tn,i)=>{
  const x0=P0+i*PITCH;
  const xs=d3.scaleLog().domain([P10(xLimitsLog10[i][0]),P10(xLimitsLog10[i][1])]).range([x0,x0+PW]);
  [`pred.Nx: ${predNx[i]}`,`P.value: ${pValues[i]}`,`Test: ${tn}`].forEach((s,k)=>{
    const sy=STRIP_TOP+k*STRIP_PITCH;
    svg.append("rect").attr("x",x0).attr("y",sy).attr("width",PW).attr("height",STRIP_H).attr("fill","#D9D9D9").attr("stroke",BORDER).attr("stroke-width",1);
    svg.append("text").attr("x",x0+PW/2).attr("y",sy+STRIP_H/2+4.3).attr("text-anchor","middle").attr("font-size",12).attr("fill","#1A1A1A").text(s);
  });
  [0,1].forEach(r=>{
    const y0=ROWTOP[r], ys=yScales[r];
    const cid=`clip${i}_${r}`;
    defs.append("clipPath").attr("id",cid).append("rect").attr("x",x0).attr("y",y0).attr("width",PW).attr("height",RH);
    const g=svg.append("g");
    g.append("rect").attr("x",x0).attr("y",y0).attr("width",PW).attr("height",RH).attr("fill","#fff");
    const xl=xLimitsLog10[i], yl=yLims[r];
    minorsOf(xTickExp[i],xl[0],xl[1]).forEach(v=>g.append("line").attr("x1",xs(P10(v))).attr("x2",xs(P10(v))).attr("y1",y0).attr("y2",y0+RH).attr("stroke",GRID).attr("stroke-width",0.6));
    minorsOf(yMaj[r],yl[0],yl[1]).forEach(v=>g.append("line").attr("x1",x0).attr("x2",x0+PW).attr("y1",ys(P10(v))).attr("y2",ys(P10(v))).attr("stroke",GRID).attr("stroke-width",0.6));
    xTickExp[i].forEach(v=>g.append("line").attr("x1",xs(P10(v))).attr("x2",xs(P10(v))).attr("y1",y0).attr("y2",y0+RH).attr("stroke",GRID).attr("stroke-width",1.2));
    yMaj[r].forEach(v=>g.append("line").attr("x1",x0).attr("x2",x0+PW).attr("y1",ys(P10(v))).attr("y2",ys(P10(v))).attr("stroke",GRID).attr("stroke-width",1.2));
    if(r===1){const yy=ys(timeLimitSec[i]);g.append("line").attr("x1",x0).attr("x2",x0+PW).attr("y1",yy).attr("y2",yy).attr("stroke","#BEBEBE").attr("stroke-width",1.2);}
    const series=panelSeries[i][r];
    const ordered=series.slice().sort((a,b)=>drawRank[a[0]]-drawRank[b[0]]);
    const cg=g.append("g").attr("clip-path",`url(#${cid})`);
    const line=d3.line().x(d=>xs(P10(d[0]))).y(d=>ys(P10(d[1])));
    const area=d3.area().x(d=>xs(P10(d[0]))).y0(d=>ys(P10(d[1]))).y1(d=>ys(P10(d[2])));
    ordered.forEach(s=>{ if(s[2]) cg.append("path").attr("d",area(s[2])).attr("fill",seriesColors[s[0]]).attr("fill-opacity",0.5); });
    ordered.forEach(s=>{ cg.append("path").attr("d",line(s[1])).attr("fill","none").attr("stroke",seriesColors[s[0]]).attr("stroke-width",1.4).attr("stroke-linejoin","round"); });
    // direct labels at the right end of each line
    const items=series.map(s=>{const last=s[1][s[1].length-1];return {name:s[0],xe:xs(P10(last[0])),ye:ys(P10(last[1]))};});
    items.sort((a,b)=>a.ye-b.ye);
    let pos=stack(items.map(d=>d.ye),LH);
    if(pos[0]-LH/2<y0){const sh=y0-(pos[0]-LH/2);pos=pos.map(p=>p+sh);}
    if(pos[pos.length-1]+LH/2>y0+RH){const sh=pos[pos.length-1]+LH/2-(y0+RH);pos=pos.map(p=>p-sh);}
    const bx=d3.max(items,d=>d.xe)+3;
    items.forEach((d,k)=>{
      const col=seriesColors[d.name];
      const lg=cg.append("g");
      const poly=lg.append("polygon");
      const t=lg.append("text").attr("x",bx+1.5).attr("y",pos[k]+6).attr("font-size",16).attr("fill",textColor(col)).text(d.name);
      const w=t.node().getComputedTextLength();
      const yt=pos[k]-LH/2, yb=pos[k]+LH/2;
      poly.attr("points",[[d.xe,d.ye],[bx,yt],[bx+w+3,yt],[bx+w+3,yb],[bx,yb]].map(p=>p.join(",")).join(" ")).attr("fill",col).attr("stroke","#000").attr("stroke-width",1);
    });
    if(r===1 && significance[i]){
      const sg=g.append("g");
      const rect=sg.append("rect");
      const t=sg.append("text").attr("x",x0+5).attr("y",y0+RH-4.5).attr("font-size",14.8).attr("fill","#000").text(significance[i]);
      const w=t.node().getComputedTextLength();
      rect.attr("x",x0+0.5).attr("y",y0+RH-20).attr("width",w+10).attr("height",19.5).attr("rx",3).attr("fill","#fff").attr("stroke","#000").attr("stroke-width",0.9);
    }
    g.append("rect").attr("x",x0).attr("y",y0).attr("width",PW).attr("height",RH).attr("fill","none").attr("stroke",BORDER).attr("stroke-width",1);
    if(r===1){
      xTickExp[i].forEach((v,k)=>{const xx=xs(P10(v));
        svg.append("line").attr("x1",xx).attr("x2",xx).attr("y1",y0+RH).attr("y2",y0+RH+3.7).attr("stroke",BORDER).attr("stroke-width",1);
        svg.append("text").attr("x",xx).attr("y",770.5).attr("text-anchor","middle").attr("font-size",12).attr("fill","#4D4D4D").text(xTickLabels[i][k]);});
    }
    if(i===0){
      yMaj[r].forEach((v,k)=>{const yy=ys(P10(v));
        svg.append("line").attr("x1",65.6).attr("x2",x0).attr("y1",yy).attr("y2",yy).attr("stroke",BORDER).attr("stroke-width",1);
        svg.append("text").attr("x",62).attr("y",yy+4.3).attr("text-anchor","end").attr("font-size",12).attr("fill","#4D4D4D").text(yLab[r][k]);});
    }
  });
});
// right-hand row strips
const SX=P0+18*PITCH+PW+1.5;
rowUnits.forEach((u,r)=>{
  svg.append("rect").attr("x",SX).attr("y",ROWTOP[r]).attr("width",23.5).attr("height",RH).attr("fill","#D9D9D9").attr("stroke",BORDER).attr("stroke-width",1);
  const cy=ROWTOP[r]+RH/2;
  svg.append("text").attr("transform",`translate(${SX+7.5},${cy}) rotate(90)`).attr("text-anchor","middle").attr("font-size",12).attr("fill","#1A1A1A").text(u);
});
// axis titles
svg.append("text").attr("transform",`translate(21.5,${(ROWTOP[0]+ROWTOP[1]+RH)/2}) rotate(-90)`).attr("text-anchor","middle").attr("font-size",14.5).attr("fill","#000").text(yAxisTitle);
svg.append("text").attr("x",(P0+P0+18*PITCH+PW)/2).attr("y",791).attr("text-anchor","middle").attr("font-size",14.5).attr("fill","#000").text(xAxisTitle);
</script></body></html>
